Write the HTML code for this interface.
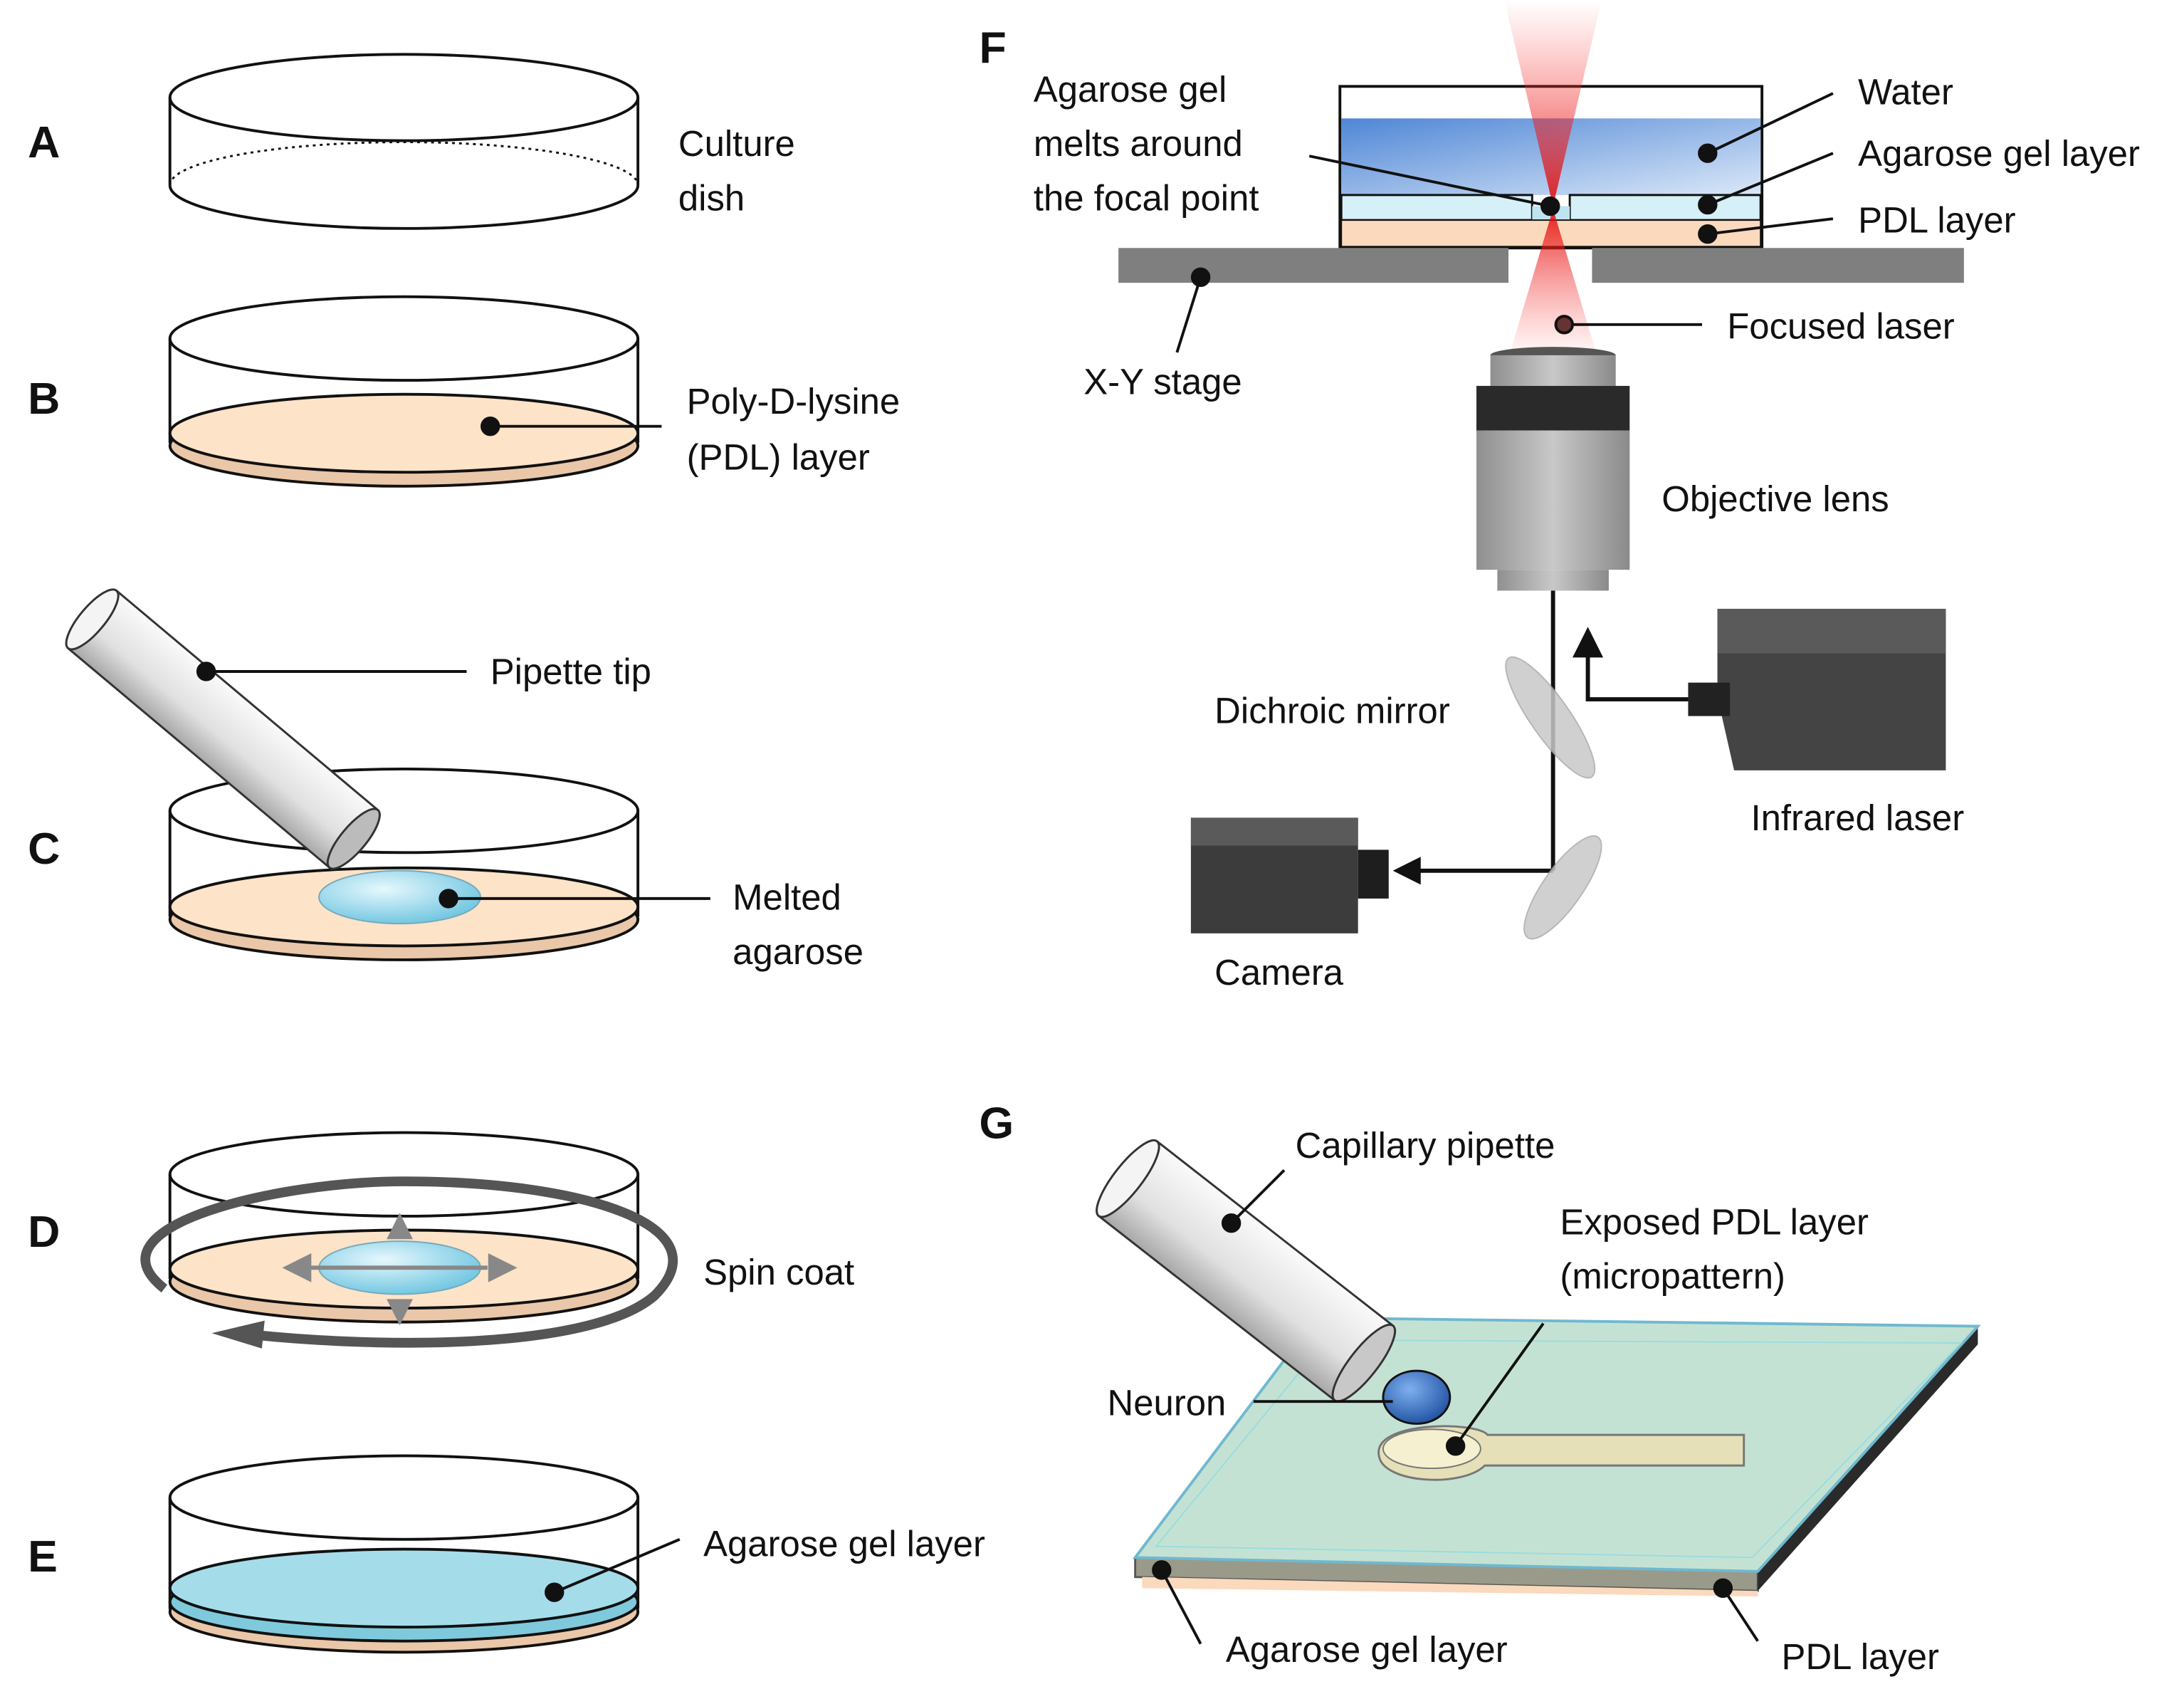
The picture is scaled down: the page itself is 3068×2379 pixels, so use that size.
<!DOCTYPE html>
<html><head><meta charset="utf-8"><style>
html,body{margin:0;padding:0;background:#fff}
svg{display:block}
text{font-family:"Liberation Sans",sans-serif;font-size:26px;fill:#111}
.L{font-weight:bold;font-size:32px}
</style></head><body>
<svg width="3068" height="2379" viewBox="0 0 1568 1216" preserveAspectRatio="none" xmlns="http://www.w3.org/2000/svg">
<defs>
<linearGradient id="water" x1="0" y1="0" x2="1" y2="1"><stop offset="0" stop-color="#4f86d6"/><stop offset="1" stop-color="#dbe8f8"/></linearGradient>
<radialGradient id="drop" cx="0.4" cy="0.35" r="0.7"><stop offset="0" stop-color="#e6f8fd"/><stop offset="1" stop-color="#6cc4e0"/></radialGradient>
<linearGradient id="lens" x1="0" y1="0" x2="1" y2="0"><stop offset="0" stop-color="#8f8f8f"/><stop offset="0.5" stop-color="#c8c8c8"/><stop offset="1" stop-color="#8a8a8a"/></linearGradient>
<linearGradient id="cone1" x1="0" y1="0" x2="0" y2="1"><stop offset="0" stop-color="#ff4040" stop-opacity="0"/><stop offset="1" stop-color="#e00000"/></linearGradient>
<linearGradient id="cone2" x1="0" y1="0" x2="0" y2="1"><stop offset="0" stop-color="#e00000"/><stop offset="1" stop-color="#ff6060" stop-opacity="0.1"/></linearGradient>
<linearGradient id="pip" x1="0" y1="0" x2="0" y2="1"><stop offset="0" stop-color="#fafafa"/><stop offset="0.6" stop-color="#e0e0e0"/><stop offset="1" stop-color="#a8a8a8"/></linearGradient>
<radialGradient id="neur" cx="0.4" cy="0.35" r="0.7"><stop offset="0" stop-color="#7eb0f0"/><stop offset="1" stop-color="#1e4fa0"/></radialGradient>
</defs>

<text class="L" x="20" y="113">A</text>
<text class="L" x="20" y="297">B</text>
<text class="L" x="20" y="620">C</text>
<text class="L" x="20" y="895">D</text>
<text class="L" x="20" y="1128">E</text>
<text class="L" x="703" y="45">F</text>
<text class="L" x="703" y="817">G</text>

<g fill="none" stroke="#111" stroke-width="2">
<ellipse cx="290" cy="70" rx="168" ry="31" fill="#fff"/>
<line x1="122" y1="70" x2="122" y2="133"/><line x1="458" y1="70" x2="458" y2="133"/>
<path d="M122 133 A168 31 0 0 0 458 133"/>
<path d="M122 133 A168 31 0 0 1 458 133" stroke-dasharray="2 3" stroke-width="1.5"/>
<ellipse cx="290" cy="243" rx="168" ry="30"/>
<line x1="122" y1="243" x2="122" y2="318"/><line x1="458" y1="243" x2="458" y2="318"/>
<ellipse cx="290" cy="320" rx="168" ry="29" fill="#e9c7a8" stroke="#111"/>
<ellipse cx="290" cy="311" rx="168" ry="28" fill="#fde3c8" stroke="#111"/>
<ellipse cx="290" cy="582" rx="168" ry="30"/>
<line x1="122" y1="582" x2="122" y2="658"/><line x1="458" y1="582" x2="458" y2="658"/>
<ellipse cx="290" cy="660" rx="168" ry="29" fill="#e9c7a8"/>
<ellipse cx="290" cy="651" rx="168" ry="28" fill="#fde3c8"/>
<ellipse cx="290" cy="843" rx="168" ry="30"/>
<line x1="122" y1="843" x2="122" y2="918"/><line x1="458" y1="843" x2="458" y2="918"/>
<ellipse cx="290" cy="920" rx="168" ry="29" fill="#e9c7a8"/>
<ellipse cx="290" cy="911" rx="168" ry="28" fill="#fde3c8"/>
<ellipse cx="290" cy="1075" rx="168" ry="30"/>
<line x1="122" y1="1075" x2="122" y2="1155"/><line x1="458" y1="1075" x2="458" y2="1155"/>
<ellipse cx="290" cy="1157" rx="168" ry="29" fill="#e9c7a8"/>
<ellipse cx="290" cy="1150" rx="168" ry="28" fill="#7fc9dc"/>
<ellipse cx="290" cy="1140" rx="168" ry="28" fill="#a5dcea"/>
</g>

<g transform="translate(162,525) rotate(40)">
<rect x="-125" y="-27" width="245" height="54" fill="url(#pip)" stroke="#333" stroke-width="1.5"/>
<ellipse cx="-125" cy="0" rx="9" ry="27" fill="#f4f4f4" stroke="#333" stroke-width="1.5"/>
<ellipse cx="120" cy="0" rx="9" ry="27" fill="#bbb" stroke="#333" stroke-width="1.5"/>
</g>
<ellipse cx="287" cy="644" rx="58" ry="19" fill="url(#drop)" stroke="#7ab" stroke-width="1"/>
<ellipse cx="287" cy="910" rx="58" ry="19" fill="url(#drop)" stroke="#7ab" stroke-width="1"/>
<g fill="#888" stroke="#888" stroke-width="3">
<line x1="222" y1="910" x2="350" y2="910"/>
<polygon points="206,910 222,902 222,918"/><polygon points="368,910 352,902 352,918"/>
<polygon points="287,874 280,888 294,888"/><polygon points="287,948 280,934 294,934"/>
</g>
<path d="M118 925 C60 880 200 848 290 848 C420 848 520 880 470 930 C430 965 300 970 180 958" fill="none" stroke="#555" stroke-width="7"/>
<polygon points="152,957 190,948 188,968" fill="#555"/>

<g stroke="#111" stroke-width="2">
<line x1="352" y1="306" x2="475" y2="306"/><circle cx="352" cy="306" r="6" fill="#111"/>
<line x1="148" y1="482" x2="335" y2="482"/><circle cx="148" cy="482" r="6" fill="#111"/>
<line x1="322" y1="645" x2="510" y2="645"/><circle cx="322" cy="645" r="6" fill="#111"/>
<line x1="398" y1="1143" x2="488" y2="1105"/><circle cx="398" cy="1143" r="6" fill="#111"/>
</g>
<text x="487" y="112">Culture</text><text x="487" y="151">dish</text>
<text x="493" y="297">Poly-D-lysine</text><text x="493" y="337">(PDL) layer</text>
<text x="352" y="491">Pipette tip</text>
<text x="526" y="653">Melted</text><text x="526" y="692">agarose</text>
<text x="505" y="922">Spin coat</text>
<text x="505" y="1117">Agarose gel layer</text>

<!-- F -->
<rect x="962" y="62" width="303" height="116" fill="#fff" stroke="#111" stroke-width="2"/>
<rect x="963" y="85" width="301" height="55" fill="url(#water)"/>
<path d="M963 140 H1100 V158 H963 Z M1127 140 H1264 V158 H1127 Z" fill="#d6f0f8" stroke="#111" stroke-width="1.5"/>
<rect x="1100" y="148" width="27" height="10" fill="#bfe4f0"/>
<rect x="963" y="158" width="301" height="19" fill="#fad9bd" stroke="#111" stroke-width="1"/>
<polygon points="1080,0 1150,0 1115,148" fill="url(#cone1)" opacity="0.85"/>
<rect x="803" y="178" width="280" height="25" fill="#7f7f7f"/>
<rect x="1143" y="178" width="267" height="25" fill="#7f7f7f"/>
<polygon points="1115,150 1085,250 1145,250" fill="url(#cone2)" opacity="0.85"/>
<ellipse cx="1115" cy="255" rx="45" ry="6" fill="#555"/>
<rect x="1070" y="255" width="90" height="22" fill="url(#lens)"/>
<rect x="1060" y="277" width="110" height="32" fill="#2a2a2a"/>
<rect x="1060" y="309" width="110" height="100" fill="url(#lens)"/>
<rect x="1075" y="409" width="80" height="15" fill="url(#lens)"/>
<line x1="1115" y1="424" x2="1115" y2="625" stroke="#111" stroke-width="3"/>
<line x1="1115" y1="625" x2="1015" y2="625" stroke="#111" stroke-width="3"/>
<polygon points="1000,625 1020,615 1020,635" fill="#111"/>
<ellipse cx="1113" cy="515" rx="14" ry="52" transform="rotate(-35 1113 515)" fill="#c8c8c8" stroke="#aaa" opacity="0.85"/>
<ellipse cx="1122" cy="637" rx="14" ry="44" transform="rotate(35 1122 637)" fill="#c8c8c8" stroke="#aaa" opacity="0.85"/>
<polyline points="1212,502 1140,502 1140,468" fill="none" stroke="#111" stroke-width="3"/>
<polygon points="1140,450 1129,472 1151,472" fill="#111"/>
<polygon points="1233,437 1397,437 1397,553 1245,553 1233,500" fill="#444"/>
<rect x="1233" y="437" width="164" height="32" fill="#5a5a5a"/>
<rect x="1212" y="490" width="30" height="24" fill="#222"/>
<rect x="855" y="587" width="120" height="83" fill="#3c3c3c"/>
<rect x="855" y="587" width="120" height="20" fill="#5a5a5a"/>
<rect x="975" y="610" width="22" height="35" fill="#1e1e1e"/>
<g stroke="#111" stroke-width="2">
<line x1="940" y1="112" x2="1113" y2="148"/><circle cx="1113" cy="148" r="6" fill="#111"/>
<line x1="1226" y1="110" x2="1316" y2="67"/><circle cx="1226" cy="110" r="6" fill="#111"/>
<line x1="1226" y1="147" x2="1316" y2="110"/><circle cx="1226" cy="147" r="6" fill="#111"/>
<line x1="1226" y1="168" x2="1316" y2="157"/><circle cx="1226" cy="168" r="6" fill="#111"/>
<line x1="862" y1="199" x2="845" y2="253"/><circle cx="862" cy="199" r="6" fill="#111"/>
<line x1="1123" y1="233" x2="1222" y2="233"/><circle cx="1123" cy="233" r="6" fill="#633"/>
</g>
<text x="742" y="73">Agarose gel</text><text x="742" y="112">melts around</text><text x="742" y="151">the focal point</text>
<text x="1334" y="75">Water</text><text x="1334" y="119">Agarose gel layer</text><text x="1334" y="167">PDL layer</text>
<text x="778" y="283">X-Y stage</text><text x="1240" y="243">Focused laser</text>
<text x="1193" y="367">Objective lens</text><text x="872" y="519">Dichroic mirror</text>
<text x="1257" y="596">Infrared laser</text><text x="872" y="707">Camera</text>

<!-- G -->
<polygon points="815,1118 1262,1128 1262,1142 815,1132" fill="#9a9a8a" stroke="#555" stroke-width="1.5"/>
<polygon points="820,1132 1262,1142 1262,1146 820,1140" fill="#fad9bd"/>
<polygon points="1262,1128 1420,952 1420,965 1262,1142" fill="#2a2a2a"/>
<polygon points="815,1118 945,946 1420,952 1262,1128" fill="#c4e2d4" stroke="#6fb9cf" stroke-width="2"/>
<polygon points="830,1110 952,962 1408,964 1258,1118" fill="none" stroke="#9dd" stroke-width="1"/>
<path d="M990 1045 C985 1020 1060 1020 1068 1030 L1252 1030 L1252 1052 L1066 1052 C1050 1068 993 1065 990 1045Z" fill="#e5e0b8" stroke="#777" stroke-width="1.5"/>
<ellipse cx="1028" cy="1040" rx="35" ry="14" fill="#f5f0d0" stroke="#777"/>
<g transform="translate(898,915) rotate(38)">
<rect x="-112" y="-34" width="215" height="68" fill="url(#pip)" stroke="#333" stroke-width="1.5"/>
<ellipse cx="-112" cy="0" rx="10" ry="34" fill="#f4f4f4" stroke="#333" stroke-width="1.5"/>
<ellipse cx="103" cy="0" rx="10" ry="34" fill="#c8c8c8" stroke="#333" stroke-width="1.5"/>
</g>
<ellipse cx="1017" cy="1003" rx="24" ry="19" fill="url(#neur)" stroke="#111" stroke-width="1.5"/>
<g stroke="#111" stroke-width="2">
<line x1="884" y1="878" x2="922" y2="840"/><circle cx="884" cy="878" r="6" fill="#111"/>
<line x1="900" y1="1006" x2="1000" y2="1006"/>
<line x1="1045" y1="1038" x2="1108" y2="950"/><circle cx="1045" cy="1038" r="6" fill="#111"/>
<line x1="834" y1="1127" x2="862" y2="1180"/><circle cx="834" cy="1127" r="6" fill="#111"/>
<line x1="1237" y1="1140" x2="1262" y2="1178"/><circle cx="1237" cy="1140" r="6" fill="#111"/>
</g>
<text x="930" y="831">Capillary pipette</text>
<text x="1120" y="886">Exposed PDL layer</text><text x="1120" y="925">(micropattern)</text>
<text x="795" y="1016">Neuron</text>
<text x="880" y="1193">Agarose gel layer</text><text x="1279" y="1198">PDL layer</text>
</svg>
</body></html>
